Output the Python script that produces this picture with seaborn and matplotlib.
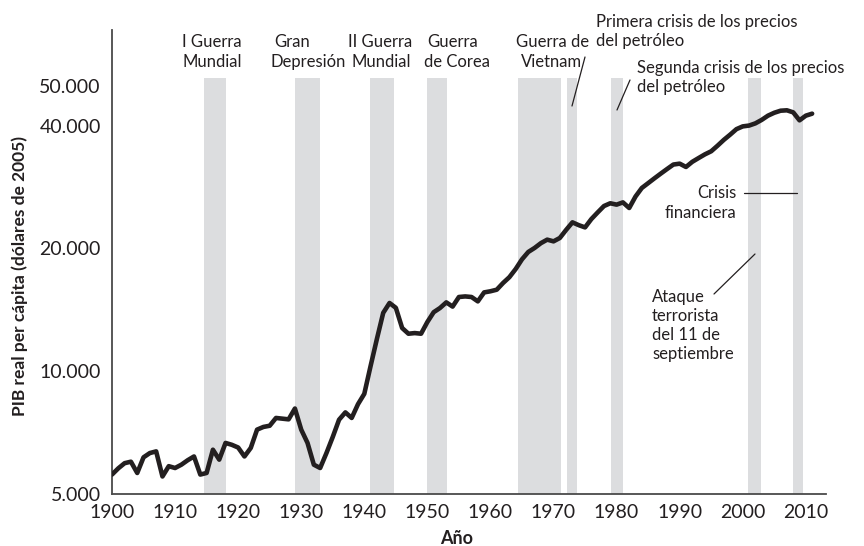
import matplotlib
matplotlib.use("Agg")
import matplotlib.pyplot as plt
from matplotlib.lines import Line2D
import seaborn as sns
import pandas as pd

years = list(range(1900, 2012))
gdp = [5580, 5780, 5950, 6000, 5630, 6150, 6300, 6360, 5520, 5850,
       5790, 5900, 6050, 6180, 5580, 5630, 6420, 6070, 6670, 6600,
       6500, 6180, 6485, 7190, 7300, 7350, 7680, 7650, 7620, 8100,
       7190, 6670, 5900, 5790, 6300, 6900, 7605, 7925, 7680, 8300,
       8800, 10300, 12000, 13900, 14695, 14300, 12760, 12355, 12400, 12355,
       13200, 13950, 14285, 14745, 14400, 15200, 15250, 15200, 14830, 15600,
       15700, 15840, 16450, 17000, 17800, 18800, 19600, 20050, 20600, 21010,
       20810, 21210, 22200, 23165, 22800, 22515, 23600, 24500, 25400, 25800,
       25600, 25930, 25120, 26800, 28125, 28900, 29700, 30500, 31300, 32100,
       32265, 31665, 32600, 33300, 34000, 34600, 35700, 36900, 38000, 39200,
       39815, 40000, 40500, 41300, 42300, 43000, 43500, 43600, 43100, 41200,
       42300, 42780]

band_starts = [1914.6, 1929.0, 1940.9, 1950.0, 1964.3, 1972.2, 1979.1, 2000.9, 2008.0]
band_ends = [1918.1, 1933.0, 1944.7, 1953.1, 1971.2, 1973.7, 1981.0, 2002.9, 2009.5]
band_top = 52300

ytick_vals = [5000, 10000, 20000, 40000, 50000]
ytick_labels = ["5.000", "10.000", "20.000", "40.000", "50.000"]
xtick_vals = list(range(1900, 2011, 10))
xtick_labels = [str(v) for v in xtick_vals]

sns.set_theme(style="white")
plt.rcParams["font.family"] = ["Lato", "DejaVu Sans"]

W, H = 864, 546
fig = plt.figure(figsize=(W / 100, H / 100), dpi=100)
ax = fig.add_axes([112 / W, 1 - 494 / H, (826 - 112) / W, (494 - 30) / H])

band_color = "#dcdddf"
for s, e in zip(band_starts, band_ends):
    ax.fill_between([s, e], [5000, 5000], [band_top, band_top], color=band_color, lw=0, zorder=1)

df = pd.DataFrame({"year": years, "gdp": gdp})
sns.lineplot(data=df, x="year", y="gdp", ax=ax, color="#231f20", lw=3.3, zorder=3)

ax.set_yscale("log")
ax.set_ylim(5000, 68600)
ax.set_xlim(1900, 2013.2)
ax.set_yticks(ytick_vals)
ax.set_yticklabels(ytick_labels)
ax.yaxis.set_minor_locator(matplotlib.ticker.NullLocator())
ax.set_xticks(xtick_vals)
ax.set_xticklabels(xtick_labels)

spine_color = "#4a4a4a"
for side in ["top", "right"]:
    ax.spines[side].set_visible(False)
for side in ["left", "bottom"]:
    ax.spines[side].set_color(spine_color)
    ax.spines[side].set_linewidth(1.3)

ax.tick_params(axis="both", direction="in", length=10.5, width=1.2, color=spine_color,
               labelsize=14, labelcolor="#231f20")
ax.tick_params(axis="y", pad=8)
ax.tick_params(axis="x", pad=7)

ax.set_xlabel("Año", fontsize=13, fontweight="bold", color="#231f20")
ax.set_ylabel("PIB real per cápita (dólares de 2005)", fontsize=12.5, fontweight="bold", color="#231f20")
ax.xaxis.set_label_coords((457 - 112) / 714, -(538 - 494) / 464)
ax.xaxis.label.set_va("center")
ax.yaxis.set_label_coords((20 - 112) / 714, (494 - 276.5) / 464)
ax.yaxis.label.set_va("center")

txt_color = "#231f20"
fs = 12


def ftext(x, y, s, ha="left"):
    fig.text(x / W, 1 - y / H, s, ha=ha, va="center", fontsize=fs, color=txt_color)


def fline(x1, y1, x2, y2):
    fig.add_artist(Line2D([x1 / W, x2 / W], [1 - y1 / H, 1 - y2 / H],
                          transform=fig.transFigure, color="#231f20", lw=0.9))


ftext(212, 42, "I Guerra", ha="center")
ftext(212, 62, "Mundial", ha="center")
ftext(274, 42, "Gran")
ftext(271, 62, "Depresión")
ftext(380, 42, "II Guerra", ha="center")
ftext(381, 62, "Mundial", ha="center")
ftext(427, 42, "Guerra")
ftext(424, 62, "de Corea")
ftext(553, 42, "Guerra de", ha="center")
ftext(552, 62, "Vietnam", ha="center")
ftext(596, 22, "Primera crisis de los precios")
ftext(596, 41, "del petróleo")
ftext(637, 68, "Segunda crisis de los precios")
ftext(637, 87, "del petróleo")
ftext(736, 193, "Crisis", ha="right")
ftext(736, 213, "financiera", ha="right")
ftext(652, 297, "Ataque")
ftext(652, 316, "terrorista")
ftext(652, 335, "del 11 de")
ftext(652, 354, "septiembre")

fline(585, 57, 572, 106)
fline(630, 80, 617, 110)
fline(744, 192.5, 797, 192.5)
fline(714, 294, 755, 254)

fig.savefig("out.png", dpi=100)
